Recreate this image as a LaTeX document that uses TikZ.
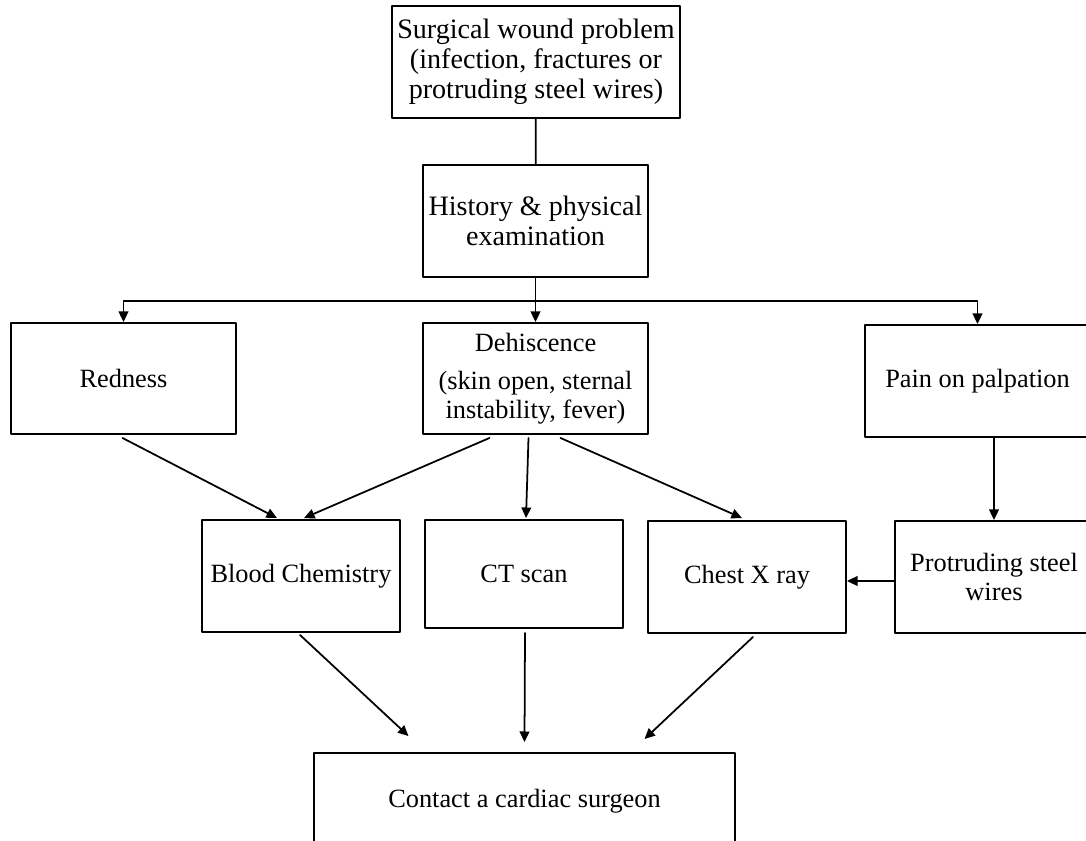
\documentclass[tikz,border=0pt]{standalone}
\usepackage{fontspec}
\setmainfont{Liberation Serif}
\usetikzlibrary{arrows.meta,calc}
\begin{document}
\begin{tikzpicture}[x=0.02cm, y=-0.02cm, font=\fontsize{15}{16.5}\selectfont, line join=round, line cap=round, >={Triangle[length=6pt,width=5.5pt]}]
	\def\u{0.02cm} % one pixel of the figure
	\tikzset{box/.style={draw, line width=1.1pt, align=center, inner sep=0pt, minimum width=198*\u, minimum height=112*\u},
		big/.style={font=\fontsize{16}{17}\selectfont},
		link/.style={line width=1pt}}
	\useasboundingbox (0,0) rectangle (1086,841);
	\clip (0,0) rectangle (1086,841);
	% boxes
	\node[box, big, minimum width=288*\u] (wound) at (536,62) {Surgical wound problem\\(infection, fractures or\\protruding steel wires)};
	\node[box, big, minimum width=225*\u] (hist) at (535.5,221) {History \& physical\\examination};
	\node[box, minimum width=225*\u, minimum height=111*\u] (red) at (123.5,378.5) {Redness};
	\node[box, minimum width=225*\u, minimum height=111*\u] (dehis) at (535.5,378.5) {Dehiscence\\[5pt](skin open, sternal\\instability, fever)};
	\node[box, minimum width=225*\u] (pain) at (977.5,381) {Pain on palpation};
	\node[box] (blood) at (301,576) {Blood Chemistry};
	\node[box, minimum height=108*\u] (ct) at (524,574) {CT scan};
	\node[box] (chest) at (747,577) {Chest X ray};
	\node[box] (prot) at (994,577) {Protruding steel\\wires};
	\node[box, minimum width=421*\u, minimum height=97*\u] (surgeon) at (524.5,801.5) {Contact a cardiac surgeon};
	% connectors
	\draw[link] (wound) -- (hist);
	\draw[link] (hist.south) -- ++(0,23) coordinate (fork);
	\draw[link,->] (fork) -- (dehis);
	\draw[link,->] (fork) -| (red.north);
	\draw[link,->] (fork) -| (pain.north);
	\draw[link,->] ($(red.south)+(-1,3)$) -- ($(blood.north)+(-24,-1)$);
	\draw[link,->] ($(dehis.south)+(-46,3)$) -- ($(blood.north)+(3,-1)$);
	\draw[link,->] ($(dehis.south)+(-7,3)$) -- ($(ct.north)+(2,-1)$);
	\draw[link,->] ($(dehis.south)+(25,3)$) -- ($(chest.north)+(-5,-2)$);
	\draw[link,->] (pain.south -| prot.north) -- (prot.north);
	\draw[link,->] ($(prot.west)+(0,4)$) -- ($(chest.east)+(0,4)$);
	\draw[link,->] ($(blood.south)+(-1,2)$) -- ($(surgeon.north)+(-116,-16)$);
	\draw[link,->] ($(ct.south)+(1,4)$) -- ($(surgeon.north)+(0,-10)$);
	\draw[link,->] ($(chest.south)+(6,3)$) -- ($(surgeon.north)+(120,-13)$);
\end{tikzpicture}
\end{document}
